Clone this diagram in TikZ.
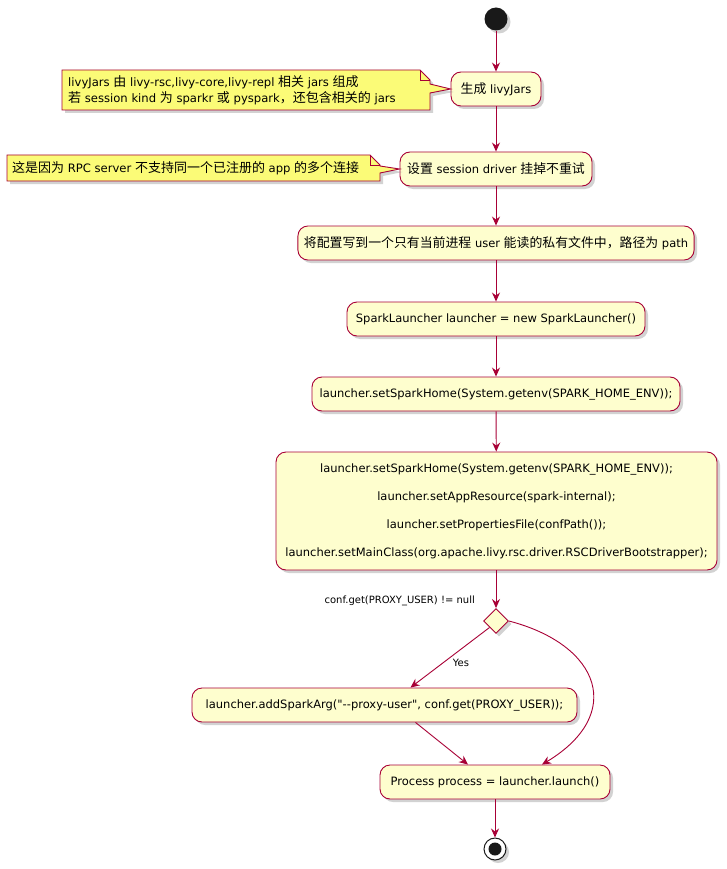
\documentclass[tikz,border=0pt]{standalone}
\usepackage{fontspec}
\setmainfont{DejaVu Sans}[Ligatures=TeXOff]
\newfontfamily\cjkfont[Scale=1.12]{Noto Sans CJK SC}
\newcommand\zh[1]{{\cjkfont #1}}
\usetikzlibrary{arrows.meta,shadows,shapes.geometric,calc}
\definecolor{umlred}{HTML}{A80036}
\definecolor{umlfill}{HTML}{FEFECE}
\definecolor{notefill}{HTML}{FBFB77}
\begin{document}
\begin{tikzpicture}[x=1pt,y=-1pt,
  shad/.style={drop shadow={opacity=0.35,shadow xshift=3pt,shadow yshift=-3pt,fill=gray}},
  act/.style={draw=umlred, fill=umlfill, rounded corners=10pt, line width=0.9pt,
    minimum height=34pt, inner xsep=6pt, inner ysep=0pt, align=center,
    font=\fontsize{11.5}{14}\selectfont, shad},
  notetext/.style={inner sep=0pt, align=left, anchor=west, font=\fontsize{11.6}{16}\selectfont},
  notebox/.style={draw=umlred, fill=notefill, line width=0.9pt, line join=miter, shad},
  flow/.style={draw=umlred, line width=0.9pt, -{Stealth[length=9pt,width=8pt,inset=3pt]}},
  lbl/.style={inner sep=0pt, font=\fontsize{10}{12}\selectfont}
]
\useasboundingbox[fill=white] (0,0) rectangle (726,869);

% start
\node[circle, fill=black!90, minimum size=23pt, inner sep=0pt, shad] (start) at (496,19) {};

% activities
\node[act, minimum width=90pt] (b1) at (496,89) {\zh{生成} livyJars};
\node[act, minimum width=192pt] (b2) at (496,169) {\zh{设置} session driver \zh{挂掉不重试}};
\node[act, minimum width=384pt] (b3) at (496,243) {\zh{将配置写到一个只有当前进程} user \zh{能读的私有文件中，路径为} path};
\node[act, minimum width=298pt] (b4) at (496,319) {SparkLauncher launcher = new SparkLauncher()};
\node[act, minimum width=368pt] (b5) at (496,394) {launcher.setSparkHome(System.getenv(SPARK\_HOME\_ENV));};
\node[act, minimum width=441pt, minimum height=118pt, font=\fontsize{11.5}{28}\selectfont] (b6) at (496.5,511)
  {launcher.setSparkHome(System.getenv(SPARK\_HOME\_ENV));\\
   launcher.setAppResource(spark-internal);\\
   launcher.setPropertiesFile(confPath());\\
   launcher.setMainClass(org.apache.livy.rsc.driver.RSCDriverBootstrapper);};
\node[diamond, draw=umlred, fill=umlfill, line width=0.9pt, minimum size=25pt, inner sep=0pt, aspect=1, shad] (dia) at (496,621) {};
\node[lbl, anchor=east] (cond) at (475,601) {conf.get(PROXY\_USER) != null};
\node[act, minimum width=385pt] (b7) at (384.5,705) {launcher.addSparkArg("--proxy-user", conf.get(PROXY\_USER));};
\node[act, minimum width=230pt] (b8) at (495,782) {Process process = launcher.launch()};

% end
\node[circle, draw=black!90, fill=white, line width=1pt, minimum size=22pt, inner sep=0pt, shad] (stop) at (495,849) {};
\node[circle, fill=black!90, minimum size=13pt, inner sep=0pt] (stopin) at (stop) {};

% notes
\coordinate (n1t) at (68,90);
\draw[notebox] (62,70) -- (420,70) -- (430,80) -- (430,84) -- (b1.west) -- (430,93) -- (430,110) -- (62,110) -- cycle;
\draw[umlred, line width=0.9pt] (420,70) -- (420,80) -- (430,80);
\node[notetext] (n1) at (n1t) {livyJars \zh{由} livy-rsc,livy-core,livy-repl \zh{相关} jars \zh{组成}\\\zh{若} session kind \zh{为} sparkr \zh{或} pyspark\zh{，还包含相关的} jars};

\coordinate (n2t) at (12,168);
\draw[notebox] (7,155) -- (370,155) -- (380,165) -- (380,166) -- (b2.west) -- (380,173) -- (380,181) -- (7,181) -- cycle;
\draw[umlred, line width=0.9pt] (370,155) -- (370,165) -- (380,165);
\node[notetext] (n2) at (n2t) {\zh{这是因为} RPC server \zh{不支持同一个已注册的} app \zh{的多个连接}};

% flows
\draw[flow] (start) -- (b1);
\draw[flow] (b1) -- (b2);
\draw[flow] (b2) -- (b3);
\draw[flow] (b3) -- (b4);
\draw[flow] (b4) -- (b5);
\draw[flow] (b5) -- (b6);
\draw[flow] (b6.south -| dia) -- (dia.north);
\draw[flow] (dia.south west) -- ([xshift=26pt]b7.north);
\node[lbl] (yes) at (461,663) {Yes};
\draw[flow] (dia.east) .. controls +(92,24) and +(83,-50) .. ([xshift=47pt]b8.north);
\draw[flow] ([xshift=31pt]b7.south) -- ([xshift=-27pt]b8.north);
\draw[flow] (b8) -- (stop);
\end{tikzpicture}
\end{document}
